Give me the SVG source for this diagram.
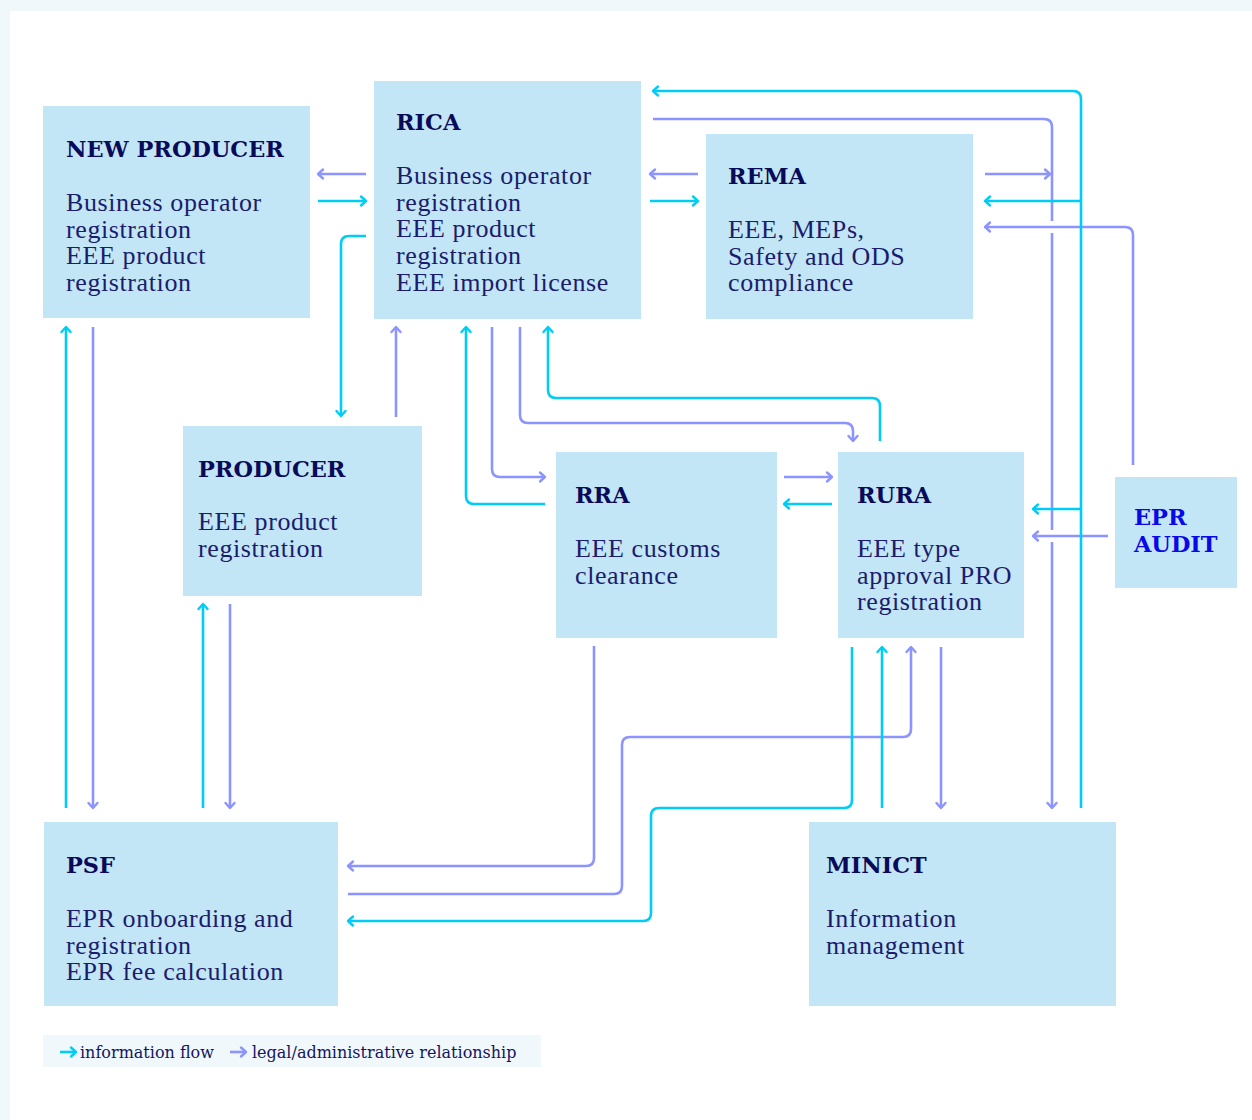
<svg xmlns="http://www.w3.org/2000/svg" width="1252" height="1120" viewBox="0 0 1252 1120">
<style>
.node{fill:#c2e6f5}
.t{font-family:"DejaVu Serif",serif;font-weight:bold;font-size:22.4px;fill:#0a0a5a}
.b{font-family:"Liberation Serif",serif;font-size:26px;letter-spacing:0.6px;fill:#1c1c6e}
.ci{fill:none;stroke:#00cdf7;stroke-width:2.6}
.pu{fill:none;stroke:#8b94ff;stroke-width:2.6}
.lg{font-family:"DejaVu Serif",serif;font-size:16px;fill:#14145e}
</style>
<defs>
<marker id="ac" viewBox="-7 -7 9 14" markerWidth="9" markerHeight="14" refX="0" refY="0" orient="auto" markerUnits="userSpaceOnUse" overflow="visible"><path d="M-5,-4.5 L0,0 L-5,4.5" fill="none" stroke="#00cdf7" stroke-width="2.4" stroke-linecap="round" stroke-linejoin="round"/></marker>
<marker id="ap" viewBox="-7 -7 9 14" markerWidth="9" markerHeight="14" refX="0" refY="0" orient="auto" markerUnits="userSpaceOnUse" overflow="visible"><path d="M-5,-4.5 L0,0 L-5,4.5" fill="none" stroke="#8b94ff" stroke-width="2.4" stroke-linecap="round" stroke-linejoin="round"/></marker>
</defs>
<rect x="0" y="0" width="1252" height="1120" fill="#f0f8fc"/>
<rect x="10" y="11" width="1242" height="1109" fill="#ffffff"/>

<g id="new-producer">
<rect class="node" x="43" y="106" width="267" height="212"/>
<text class="t" x="66" y="157">NEW PRODUCER</text>
<text class="b"><tspan x="66" y="211">Business operator</tspan><tspan x="66" y="237.7">registration</tspan><tspan x="66" y="264.4">EEE product</tspan><tspan x="66" y="291.1">registration</tspan></text>
</g>
<g id="rica">
<rect class="node" x="374" y="81" width="267" height="238"/>
<text class="t" x="396" y="130">RICA</text>
<text class="b"><tspan x="396" y="184">Business operator</tspan><tspan x="396" y="210.7">registration</tspan><tspan x="396" y="237.4">EEE product</tspan><tspan x="396" y="264.1">registration</tspan><tspan x="396" y="290.8">EEE import license</tspan></text>
</g>
<g id="rema">
<rect class="node" x="706" y="134" width="267" height="185"/>
<text class="t" x="728" y="184">REMA</text>
<text class="b"><tspan x="728" y="238">EEE, MEPs,</tspan><tspan x="728" y="264.7">Safety and ODS</tspan><tspan x="728" y="291.4">compliance</tspan></text>
</g>
<g id="producer">
<rect class="node" x="183" y="426" width="239" height="170"/>
<text class="t" x="198" y="477">PRODUCER</text>
<text class="b"><tspan x="198" y="530">EEE product</tspan><tspan x="198" y="556.7">registration</tspan></text>
</g>
<g id="rra">
<rect class="node" x="556" y="452" width="221" height="186"/>
<text class="t" x="575" y="503">RRA</text>
<text class="b"><tspan x="575" y="557">EEE customs</tspan><tspan x="575" y="583.7">clearance</tspan></text>
</g>
<g id="rura">
<rect class="node" x="838" y="452" width="186" height="186"/>
<text class="t" x="857" y="503">RURA</text>
<text class="b"><tspan x="857" y="557">EEE type</tspan><tspan x="857" y="583.7">approval PRO</tspan><tspan x="857" y="610.4">registration</tspan></text>
</g>
<g id="epr-audit">
<rect class="node" x="1115" y="477" width="122" height="111"/>
<text class="t" style="fill:#0808e8"><tspan x="1134" y="525">EPR</tspan><tspan x="1134" y="552">AUDIT</tspan></text>
</g>
<g id="psf">
<rect class="node" x="44" y="822" width="294" height="184"/>
<text class="t" x="66" y="873">PSF</text>
<text class="b"><tspan x="66" y="927">EPR onboarding and</tspan><tspan x="66" y="953.7">registration</tspan><tspan x="66" y="980.4">EPR fee calculation</tspan></text>
</g>
<g id="minict">
<rect class="node" x="809" y="822" width="307" height="184"/>
<text class="t" x="826" y="873">MINICT</text>
<text class="b"><tspan x="826" y="927">Information</tspan><tspan x="826" y="953.7">management</tspan></text>
</g>

<g id="connectors">
<path class="pu" marker-end="url(#ap)" d="M366,174 H318"/>
<path class="ci" marker-end="url(#ac)" d="M318,201 H366"/>
<path class="ci" marker-end="url(#ac)" d="M366,236 H349 Q341,236 341,244 V416"/>
<path class="pu" marker-end="url(#ap)" d="M396,417 V327"/>
<path class="ci" marker-end="url(#ac)" d="M545,504 H474 Q466,504 466,496 V327"/>
<path class="pu" marker-end="url(#ap)" d="M492,327 V469 Q492,477 500,477 H545"/>
<path class="pu" marker-end="url(#ap)" d="M520,327 V415 Q520,423 528,423 H845 Q853,423 853,431 V441"/>
<path class="ci" marker-end="url(#ac)" d="M880,441 V406 Q880,398 872,398 H556 Q548,398 548,390 V327"/>
<path class="pu" marker-end="url(#ap)" d="M784,477 H832"/>
<path class="ci" marker-end="url(#ac)" d="M832,504 H784"/>
<path class="pu" marker-end="url(#ap)" d="M698,174 H650"/>
<path class="ci" marker-end="url(#ac)" d="M650,201 H698"/>
<path class="pu" marker-end="url(#ap)" d="M653,119 H1044 Q1052,119 1052,127 V221 M1052,233 V530 M1052,542 V808"/>
<path class="pu" marker-end="url(#ap)" d="M985,174 H1050"/>
<path class="pu" marker-end="url(#ap)" d="M1133,465 V235 Q1133,227 1125,227 H985"/>
<path class="pu" marker-end="url(#ap)" d="M1108,536 H1033"/>
<path class="ci" marker-end="url(#ac)" d="M1081,808 V99 Q1081,91 1073,91 H653"/>
<path class="ci" marker-end="url(#ac)" d="M1081,201 H985"/>
<path class="ci" marker-end="url(#ac)" d="M1081,509 H1033"/>
<path class="ci" marker-end="url(#ac)" d="M66,808 V327"/>
<path class="pu" marker-end="url(#ap)" d="M93,327 V808"/>
<path class="ci" marker-end="url(#ac)" d="M203,808 V604"/>
<path class="pu" marker-end="url(#ap)" d="M230,604 V808"/>
<path class="pu" marker-end="url(#ap)" d="M594,646 V858 Q594,866 586,866 H348"/>
<path class="pu" marker-end="url(#ap)" d="M348,894 H614 Q622,894 622,886 V745 Q622,737 630,737 H903 Q911,737 911,729 V647"/>
<path class="ci" marker-end="url(#ac)" d="M852,647 V800 Q852,808 844,808 H659 Q651,808 651,816 V913 Q651,921 643,921 H348"/>
<path class="ci" marker-end="url(#ac)" d="M882,808 V647"/>
<path class="pu" marker-end="url(#ap)" d="M941,647 V808"/>
</g>

<g id="legend">
<rect x="43" y="1035" width="498" height="32" fill="#f0f8fc"/>
<path class="ci" stroke-width="3" marker-end="url(#ac)" d="M60,1052 H76"/>
<text class="lg" x="80" y="1057.5">information flow</text>
<path class="pu" stroke-width="3" marker-end="url(#ap)" d="M230,1052 H246"/>
<text class="lg" x="252" y="1057.5">legal/administrative relationship</text>
</g>
</svg>
